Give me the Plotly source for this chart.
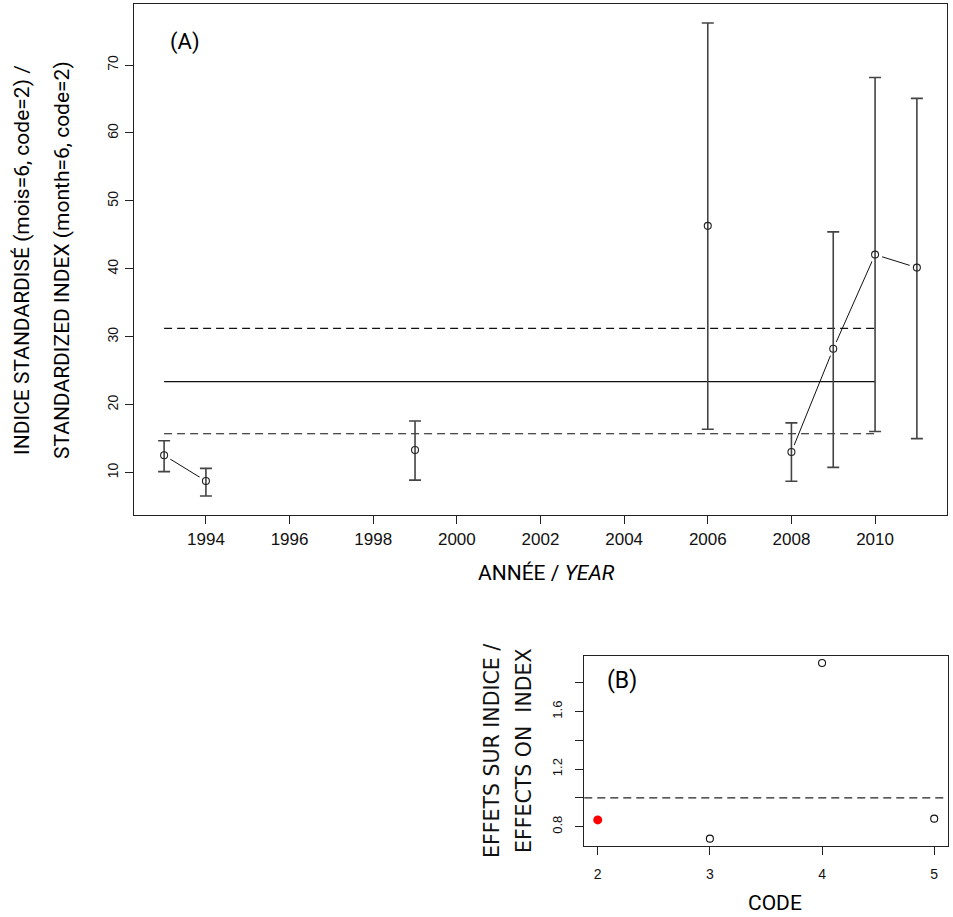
import plotly.graph_objects as go

# ---------------- data: panel (A) ----------------
YEARS = list(range(1993, 2012))
INDEX = [12.55, 8.76, None, None, None, None, 13.33, None, None, None,
         None, None, None, 46.33, None, 13.04, 28.23, 42.10, 40.18]
UPPER = [14.70, 10.63, None, None, None, None, 17.60, None, None, None,
         None, None, None, 76.20, None, 17.32, 45.44, 68.16, 65.10]
LOWER = [10.15, 6.55, None, None, None, None, 8.90, None, None, None,
         None, None, None, 16.39, None, 8.72, 10.78, 16.05, 15.00]
MEAN_INDEX = 23.40
CI_LOW = 15.72
CI_HIGH = 31.24
LINE_YEARS = [1993, 2010]
X_TICKS_A = [1994, 1996, 1998, 2000, 2002, 2004, 2006, 2008, 2010]
Y_TICKS_A = [10, 20, 30, 40, 50, 60, 70]

# ---------------- data: panel (B) ----------------
CODES = [2, 3, 4, 5]
EFFECTS = [0.847, 0.717, 1.937, 0.856]
REF_CODE = 2
REF_EFFECT = 1.0
X_TICKS_B = [2, 3, 4, 5]
Y_TICKS_B = [0.8, 1.0, 1.2, 1.4, 1.6, 1.8]
Y_TICKTEXT_B = ["0.8", "", "1.2", "", "1.6", ""]


def r_range(vals, frac=0.04):
    lo, hi = min(vals), max(vals)
    s = hi - lo
    return [lo - frac * s, hi + frac * s]


# points with values only
px = [x for x, v in zip(YEARS, INDEX) if v is not None]
py = [v for v in INDEX if v is not None]
pu = [u for u in UPPER if u is not None]
pl = [l for l in LOWER if l is not None]

fig = go.Figure()

# connecting lines (type="b"), gaps at missing years
fig.add_trace(go.Scatter(x=YEARS, y=INDEX, mode="lines", connectgaps=False,
                         line=dict(color="#111", width=1), hoverinfo="skip",
                         xaxis="x", yaxis="y"))
# white masks to create the gap around points
fig.add_trace(go.Scatter(x=px, y=py, mode="markers",
                         marker=dict(color="white", size=15, line=dict(width=0)),
                         hoverinfo="skip", xaxis="x", yaxis="y"))
# mean and confidence lines
fig.add_trace(go.Scatter(x=LINE_YEARS, y=[MEAN_INDEX] * 2, mode="lines",
                         line=dict(color="#111", width=1.2), xaxis="x", yaxis="y"))
for v in (CI_LOW, CI_HIGH):
    fig.add_trace(go.Scatter(x=LINE_YEARS, y=[v] * 2, mode="lines",
                             line=dict(color="#111", width=1.2, dash="8px,5px"),
                             xaxis="x", yaxis="y"))
# points with error bars
fig.add_trace(go.Scatter(
    x=px, y=py, mode="markers",
    marker=dict(symbol="circle-open", size=7, color="#222", line=dict(width=1.1)),
    error_y=dict(type="data", symmetric=False,
                 array=[u - y for u, y in zip(pu, py)],
                 arrayminus=[y - l for y, l in zip(py, pl)],
                 color="#444", thickness=1.6, width=6),
    xaxis="x", yaxis="y"))

# panel B points
fig.add_trace(go.Scatter(
    x=[c for c in CODES if c != REF_CODE],
    y=[e for c, e in zip(CODES, EFFECTS) if c != REF_CODE],
    mode="markers",
    marker=dict(symbol="circle-open", size=7, color="#111", line=dict(width=1.1)),
    xaxis="x2", yaxis="y2"))
fig.add_trace(go.Scatter(
    x=[c for c in CODES if c == REF_CODE],
    y=[e for c, e in zip(CODES, EFFECTS) if c == REF_CODE],
    mode="markers",
    marker=dict(symbol="circle", size=9, color="#ff0000", line=dict(width=0)),
    xaxis="x2", yaxis="y2"))

fig.add_shape(type="line", xref="x2 domain", x0=0, x1=1, yref="y2",
              y0=REF_EFFECT, y1=REF_EFFECT,
              line=dict(color="#222", width=1.2, dash="8px,5px"))

all_err = pl + pu
tick_font_x = dict(family="Liberation Sans, Arial, sans-serif", size=17, color="#111")
tick_font_y = dict(family="Liberation Sans, Arial, sans-serif", size=14, color="#111")
axis_common = dict(showgrid=False, zeroline=False, showline=True, mirror=True,
                   linecolor="#222", linewidth=1.3, ticks="outside", ticklen=8,
                   tickcolor="#222", tickwidth=1)

fig.update_layout(
    width=953, height=917, margin=dict(l=0, r=0, t=0, b=0),
    paper_bgcolor="white", plot_bgcolor="white", showlegend=False,
    xaxis=dict(domain=[0.1406, 0.9937], anchor="y", range=r_range(YEARS),
               tickvals=X_TICKS_A, tickfont=tick_font_x, ticklabelstandoff=0,
               **axis_common),
    yaxis=dict(domain=[0.4384, 0.9956], anchor="x", range=r_range(all_err),
               tickvals=Y_TICKS_A, tickangle=-90, tickfont=tick_font_y,
               ticklabelstandoff=1, **axis_common),
    xaxis2=dict(domain=[0.6131, 0.9944], anchor="y2", range=r_range(CODES),
                tickvals=X_TICKS_B,
                tickfont=dict(family="Liberation Sans, Arial, sans-serif", size=14, color="#111"),
                ticklabelstandoff=7, **axis_common),
    yaxis2=dict(domain=[0.0778, 0.2846], anchor="x2", range=r_range(EFFECTS),
                tickvals=Y_TICKS_B, ticktext=Y_TICKTEXT_B, tickangle=-90,
                tickfont=dict(family="Liberation Sans, Arial, sans-serif", size=13, color="#111"),
                ticklabelstandoff=8, **axis_common),
)

title_font = dict(family="Roboto, Open Sans, sans-serif", size=21, color="#000")
W, H = 953, 917


def ann(text, x, y, font, angle=0):
    fig.add_annotation(text=text, x=x / W, y=1 - y / H, xref="paper", yref="paper",
                       xanchor="center", yanchor="middle", showarrow=False,
                       textangle=angle, font=font)


ann("(A)", 185, 42, dict(family="Roboto, Open Sans, sans-serif", size=22, color="#000"))
ann("(B)", 622, 680, dict(family="Roboto, Open Sans, sans-serif", size=23, color="#000"))
ann("INDICE STANDARDISÉ (mois=6, code=2) /", 22, 260, title_font, -90)
ann("STANDARDIZED INDEX (month=6, code=2)", 62, 260, title_font, -90)
ann("ANNÉE / <i>YEAR</i>", 546, 573, title_font)
ann("CODE", 775, 903, title_font)
b_title_font = dict(family="DejaVu Sans, sans-serif", size=20.5, color="#111")
ann("EFFETS SUR INDICE /", 492, 751, b_title_font, -90)
ann("EFFECTS ON&nbsp;&nbsp;INDEX", 524, 751, b_title_font, -90)

fig.write_html(
    "out.html",
    config={"displayModeBar": False},
    post_script="document.body.style.margin='0';document.body.style.padding='0';"
                "document.body.style.overflow='hidden';",
)
